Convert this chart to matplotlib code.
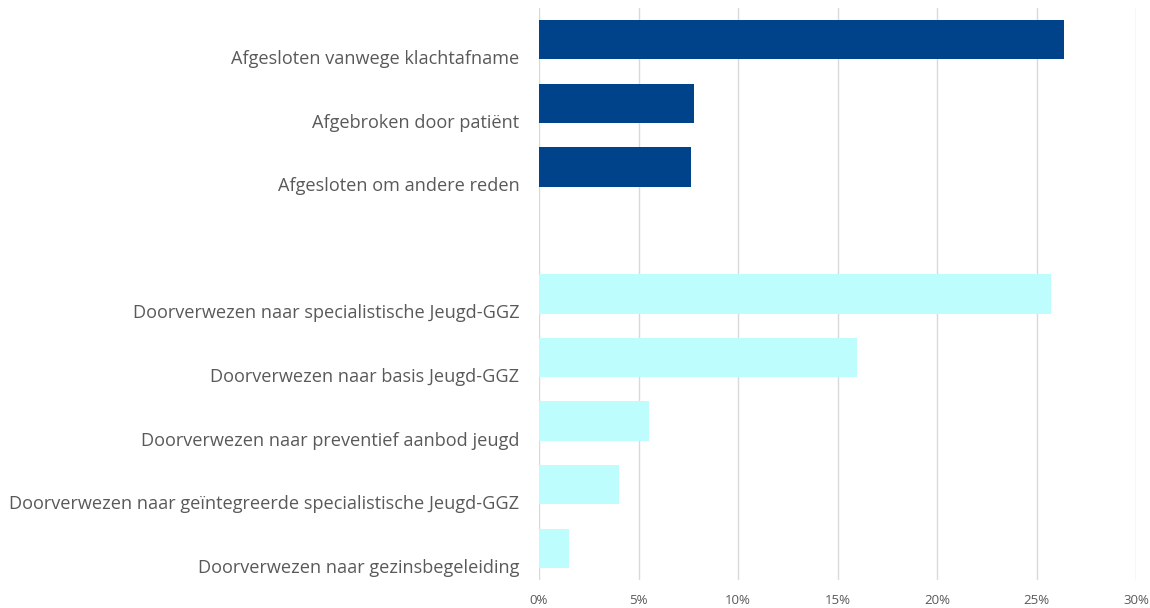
import numpy as np
import matplotlib.pyplot as plt
import matplotlib.transforms as mtransforms
from matplotlib.ticker import PercentFormatter

plt.rcParams['font.family'] = ['Open Sans', 'DejaVu Sans']

# ====================================================================
# Data (top to bottom, '' is the empty spacer row)
# ====================================================================
categories = [
    'Afgesloten vanwege klachtafname',
    'Afgebroken door patiënt',
    'Afgesloten om andere reden',
    '',
    'Doorverwezen naar specialistische Jeugd-GGZ',
    'Doorverwezen naar basis Jeugd-GGZ',
    'Doorverwezen naar preventief aanbod jeugd',
    'Doorverwezen naar geïntegreerde specialistische Jeugd-GGZ',
    'Doorverwezen naar gezinsbegeleiding',
]
values = [26.4, 7.8, 7.65, 0.0, 25.75, 16.0, 5.55, 4.0, 1.5]
groups = ['closed', 'closed', 'closed', None, 'ref', 'ref', 'ref', 'ref', 'ref']

COLORS = {'closed': '#00438A', 'ref': '#BEFDFD', None: 'none'}
TEXT = '#595959'

# ====================================================================
# Plot
# ====================================================================
fig = plt.figure(figsize=(11.5, 6.08), dpi=100)
ax = fig.add_axes([539 / 1150, 1 - 580 / 608, (1136 - 539) / 1150, (580 - 8) / 608])

y = np.arange(len(categories))
ax.barh(y, values, height=0.62, color=[COLORS[g] for g in groups], zorder=3)

ax.set_ylim(len(categories) - 0.5, -0.5)
ax.set_xlim(0, 30)
ax.set_xticks(np.arange(0, 31, 5))
ax.xaxis.set_major_formatter(PercentFormatter(decimals=0))
ax.set_yticks(y)
ax.set_yticklabels(categories)

ax.grid(axis='x', color='#D9D9D9', linewidth=1, zorder=0)
for s in ax.spines.values():
    s.set_visible(False)
ax.tick_params(axis='y', length=0, pad=14, labelsize=13.1, labelcolor=TEXT)
ax.tick_params(axis='x', length=0, pad=10, labelsize=9.5, labelcolor=TEXT)

# category labels sit a bit below the bar centres
offset = mtransforms.ScaledTranslation(0, -0.175, fig.dpi_scale_trans)
for lbl in ax.get_yticklabels():
    lbl.set_transform(lbl.get_transform() + offset)

fig.savefig('out.png', dpi=100)
